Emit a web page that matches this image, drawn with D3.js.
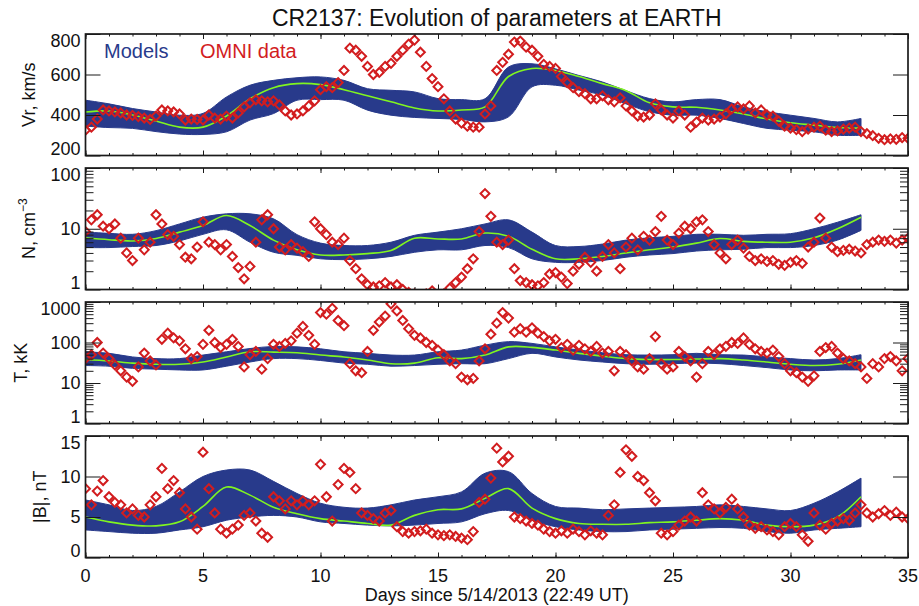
<!DOCTYPE html>
<html>
<head>
<meta charset="utf-8">
<script src="https://cdn.jsdelivr.net/npm/d3@7"></script>
<style>
  body { margin: 0; background: #fff; }
  svg { display: block; font-family: "Liberation Sans", Arial, Helvetica, sans-serif; }
</style>
</head>
<body>
<svg id="chart" width="919" height="606"></svg>
<script>
// Model ensemble envelope + median, sampled once a day (days 0..33)
const modelDays = [0, 1, 2, 3, 4, 5, 6, 7, 8, 9, 10, 11, 12, 13, 14, 15, 16, 17, 18, 19, 20, 21, 22, 23, 24, 25, 26, 27, 28, 29, 30, 31, 32, 33];

const vrTop = [473, 455, 432, 415, 399, 408, 489, 547, 571, 584, 588, 571, 530, 522, 514, 481, 476, 480, 637, 653, 628, 595, 563, 520, 481, 465, 476, 476, 440, 416, 399, 383, 366, 383];
const vrBottom = [345, 338, 334, 318, 306, 304, 317, 375, 407, 473, 476, 473, 424, 399, 388, 383, 378, 366, 391, 539, 547, 523, 498, 455, 416, 399, 399, 383, 358, 334, 325, 317, 300, 300];
const vrMedian = [415, 420, 400, 370, 340, 340, 395, 480, 535, 555, 550, 525, 495, 465, 435, 420, 425, 440, 590, 630, 620, 590, 555, 520, 460, 440, 438, 425, 405, 380, 362, 350, 338, 335];

const nTop = [8.8, 8.4, 8.1, 9.3, 12, 15.5, 17.6, 17.6, 14.6, 8, 5.8, 5.3, 5.3, 6.0, 7.8, 8.8, 10, 12, 14, 8.8, 5.3, 5.1, 5.6, 6.5, 7.1, 7.5, 8.1, 8.1, 7.8, 8.1, 8.3, 10, 12.8, 17];
const nBottom = [4.9, 4.9, 5.1, 5.3, 6.3, 8.1, 9.6, 6.0, 4.1, 3.65, 3.2, 3.1, 3.2, 3.5, 4.1, 4.5, 4.5, 5.3, 4.9, 3.2, 2.8, 2.8, 3.0, 3.4, 3.7, 3.9, 4.3, 4.5, 4.6, 4.9, 4.9, 5.3, 6.5, 9.4];
const nMedian = [7.1, 6.6, 6.3, 6.9, 8.8, 11.3, 16.5, 11.3, 6.5, 4.5, 3.7, 3.7, 3.9, 4.4, 7.0, 6.8, 6.8, 8.5, 7.5, 4.6, 3.2, 3.2, 3.5, 4.0, 4.5, 5.0, 5.8, 6.9, 6.2, 6.0, 6.0, 7.1, 10, 15.5];

const tTop = [59, 54, 44, 40, 40, 49, 59, 71, 80, 78, 70, 59, 54, 49, 49, 59, 65, 86, 105, 95, 78, 65, 56, 50, 49, 50, 54, 50, 49, 44, 40, 37, 40, 50];
const tBottom = [27, 26, 23, 22, 21, 21, 26, 33, 40, 40, 36, 31, 29, 26, 27, 29, 30, 30, 40, 54, 44, 37, 33, 30, 29, 30, 31, 30, 27, 24, 21, 20, 21, 21];
const tMedian = [38, 35, 31, 29, 29, 33, 44, 59, 58, 56, 49, 44, 37, 30, 31, 42, 40, 49, 78, 76, 65, 54, 46, 40, 38, 38, 39, 40, 37, 33, 29, 27, 29, 37];

const bTop = [7.1, 6.5, 5.8, 6.3, 8.1, 10, 10.8, 10.8, 9.4, 7.9, 6.7, 6.2, 6.1, 6.5, 7.1, 7.5, 8.1, 10.4, 10.6, 7.9, 6.3, 6.1, 5.9, 6.0, 6.1, 6.2, 6.3, 6.5, 6.3, 6.0, 5.8, 6.7, 8.1, 9.8];
const bBottom = [3.4, 3.2, 3.0, 3.0, 3.4, 3.8, 4.6, 5.0, 5.2, 5.0, 4.4, 4.2, 4.0, 3.9, 4.0, 4.2, 4.4, 5.4, 5.8, 4.6, 3.8, 3.4, 3.2, 3.2, 3.4, 3.5, 3.6, 3.7, 3.6, 3.2, 3.0, 3.4, 3.6, 3.8];
const bMedian = [5.0, 4.4, 4.0, 3.9, 4.4, 6.3, 8.7, 7.7, 6.2, 5.4, 4.8, 4.5, 4.2, 4.0, 5.2, 5.9, 6.0, 7.3, 8.5, 6.1, 4.8, 4.2, 4.1, 4.1, 4.3, 4.4, 4.6, 4.8, 4.6, 4.0, 3.8, 4.0, 5.0, 7.5];

// OMNI observations, one value every 0.25 day from day 0 to day 35
const omniStep = 0.25;

const vrOmni = [
  325, 340, 380, 425, 420, 415, 410, 400, 398, 392, 385, 378, 395, 425, 420, 415, 405, 375, 380, 378,
  375, 400, 385, 380, 395, 385, 410, 440, 460, 475, 470, 465, 470, 450, 420, 400, 405, 420, 445, 470,
  525, 540, 535, 560, 620, 730, 720, 690, 640, 600, 610, 640, 655, 690, 720, 750, 770, 710, 640, 580,
  540, 480, 420, 380, 360, 345, 340, 340, 405, 445, 620, 660, 700, 760, 765, 735, 720, 690, 650, 640,
  630, 590, 560, 535, 515, 505, 480, 480, 495, 475, 465, 485, 445, 420, 395, 390, 400, 455, 425, 400,
  385, 420, 400, 340, 365, 385, 375, 380, 390, 405, 430, 440, 430, 445, 410, 425, 400, 395, 370, 345,
  335, 328, 318, 330, 340, 345, 325, 318, 322, 330, 335, 340, 318, 308, 298, 285, 278, 282, 280, 288,
  285
];
const nOmni = [
  9, 14, 17, 11, 10, 12, 7, 4, 3, 7, 4.5, 6, 17, 12, 8, 7.5, 5.5, 3.4, 3.2, 5,
  13, 6, 5.5, 4.5, 5.5, 3.5, 2.3, 1.5, 2.4, 6, 14, 17, 10, 5, 4.5, 5.5, 4.8, 4.2, 3.5, 13,
  10, 8, 6, 5.5, 7, 3, 2.2, 1.5, 1.2, 1.1, 1.15, 1.3, 1.1, 1.2, 1.0, 0.9, 0.85, 0.8, 0.85, 0.95,
  0.8, 0.85, 1.05, 1.3, 1.6, 2.2, 3.2, 9, 38, 16, 6, 5.5, 6.5, 2.2, 1.4, 1.3, 1.2, 1.15, 1.3, 1.8,
  1.9, 1.6, 1.25, 2.0, 2.6, 3.4, 2.8, 2.0, 3.5, 5.5, 4.0, 2.2, 5.0, 7.0, 4.5, 7.5, 6.5, 9.0, 16, 6.5,
  5.5, 8.5, 11, 10, 13, 14, 9, 5.5, 4.0, 3.2, 5.5, 6.5, 4.8, 3.5, 3.0, 3.2, 2.9, 3.0, 2.6, 2.5,
  2.8, 3.0, 2.7, 5.0, 6.0, 15, 7.0, 5.0, 4.2, 4.4, 4.6, 4.3, 4.0, 5.5, 6.0, 6.5, 6.2, 6.5, 5.8, 6.5,
  7.0
];
const tOmni = [
  40, 50, 100, 55, 40, 28, 20, 14, 11, 25, 55, 35, 28, 120, 170, 130, 110, 70, 40, 45,
  90, 200, 100, 75, 90, 120, 80, 25, 50, 60, 22, 40, 90, 80, 95, 110, 170, 250, 150, 90,
  550, 500, 700, 350, 260, 30, 20, 18, 60, 200, 320, 450, 900, 600, 350, 220, 150, 130, 100, 85,
  65, 50, 35, 30, 14, 12, 13, 35, 70, 160, 300, 550, 400, 180, 220, 180, 230, 170, 140, 110,
  120, 75, 90, 65, 85, 70, 60, 80, 55, 60, 20, 60, 50, 35, 25, 22, 40, 140, 30, 22,
  25, 60, 45, 35, 14, 30, 60, 50, 70, 80, 100, 95, 130, 90, 70, 60, 55, 65, 45, 30,
  20, 18, 14, 11, 15, 60, 75, 80, 55, 40, 35, 30, 25, 13, 30, 25, 40, 45, 35, 20,
  40
];
const bOmni = [
  8.5, 6.5, 8.2, 9.5, 7.5, 6.8, 6.5, 5.5, 6.0, 5.2, 5.0, 6.5, 7.5, 11.0, 8.5, 9.5, 8.0, 6.0, 5.0, 3.5,
  13.0, 8.5, 5.5, 3.5, 3.0, 3.5, 4.0, 5.2, 5.5, 4.5, 3.0, 2.5, 7.5, 7.0, 6.0, 7.0, 6.5, 7.0, 6.5, 7.0,
  11.5, 7.5, 4.5, 9.0, 11.0, 10.5, 8.5, 5.5, 5.2, 4.8, 4.5, 5.5, 5.8, 3.8, 3.2, 3.0, 3.2, 3.3, 3.5, 3.0,
  2.8, 2.7, 2.8, 2.6, 2.4, 2.2, 3.2, 6.8, 7.2, 9.8, 13.5, 11.8, 12.5, 5.0, 4.8, 4.5, 4.2, 4.0, 3.5, 3.2,
  3.0, 3.3, 3.0, 3.5, 3.2, 2.8, 3.3, 3.0, 2.8, 5.2, 6.5, 10.5, 13.3, 12.5, 10.0, 9.5, 8.0, 7.0, 3.0, 2.8,
  3.2, 4.0, 4.5, 5.0, 4.5, 8.0, 6.5, 6.0, 5.5, 6.2, 7.2, 6.0, 5.0, 4.0, 3.6, 3.8, 3.4, 3.2, 2.8, 3.8,
  4.2, 3.8, 2.8, 2.0, 5.5, 4.0, 3.5, 4.2, 4.5, 4.8, 4.6, 5.5, 6.5, 5.5, 5.0, 5.4, 5.8, 5.2, 5.6, 5.0,
  4.8
];

const xMajorTicks = [0, 5, 10, 15, 20, 25, 30, 35];
const titleText = 'CR2137: Evolution of parameters at EARTH';
const xTitleText = 'Days since 5/14/2013 (22:49 UT)';

// Panel setup (layout only; values come from the arrays above)
const panels = [
  { title: 'Vr, km/s', log: false, domain: [200, 800], ticks: [200, 400, 600, 800], top: vrTop, bottom: vrBottom, median: vrMedian, omni: vrOmni, titleX: 35 },
  { title: 'N, cm', sup: '\u22123', log: true, domain: [1, 100], ticks: [1, 10, 100], top: nTop, bottom: nBottom, median: nMedian, omni: nOmni, titleX: 35 },
  { title: 'T, kK', log: true, domain: [1, 1000], ticks: [1, 10, 100, 1000], top: tTop, bottom: tBottom, median: tMedian, omni: tOmni, titleX: 26.5 },
  { title: '|B|, nT', log: false, domain: [0, 15], ticks: [0, 5, 10, 15], top: bTop, bottom: bBottom, median: bMedian, omni: bOmni, titleX: 46 }
];

const colors = { model: '#283a8b', median: '#80f520', omni: '#d21d1f', frame: '#1a1a1a' };
const plotLeft = 85.5, plotRight = 908;
const panelTops = [34, 168, 302, 436];
const panelHeight = 121.5;

const svg = d3.select('#chart');
const x = d3.scaleLinear().domain([0, 35]).range([plotLeft, plotRight]);
const diamond = d3.symbol(d3.symbolSquare, 40)();

svg.append('text')
  .attr('x', (plotLeft + plotRight) / 2)
  .attr('y', 25.5)
  .attr('text-anchor', 'middle')
  .attr('font-size', 23)
  .attr('fill', '#111')
  .text(titleText);

panels.forEach((p, i) => {
  const y0 = panelTops[i];
  const y1 = y0 + panelHeight;
  const y = (p.log ? d3.scaleLog() : d3.scaleLinear()).domain(p.domain).range([y1, y0]);

  const clipId = `clip-${i}`;
  svg.append('clipPath').attr('id', clipId)
    .append('rect')
    .attr('x', plotLeft).attr('y', y0)
    .attr('width', plotRight - plotLeft).attr('height', panelHeight);

  const g = svg.append('g').attr('clip-path', `url(#${clipId})`);
  const idx = d3.range(modelDays.length);

  // ensemble envelope
  g.append('path')
    .datum(idx)
    .attr('fill', colors.model)
    .attr('stroke', colors.model)
    .attr('stroke-width', 1)
    .attr('d', d3.area()
      .x(j => x(modelDays[j]))
      .y0(j => y(p.bottom[j]))
      .y1(j => y(p.top[j]))
      .curve(d3.curveCatmullRom));

  // ensemble median
  g.append('path')
    .datum(idx)
    .attr('fill', 'none')
    .attr('stroke', colors.median)
    .attr('stroke-width', 1.6)
    .attr('d', d3.line()
      .x(j => x(modelDays[j]))
      .y(j => y(p.median[j]))
      .curve(d3.curveCatmullRom));

  // OMNI diamonds
  g.selectAll('path.omni')
    .data(p.omni)
    .join('path')
    .attr('class', 'omni')
    .attr('d', diamond)
    .attr('transform', (v, j) => `translate(${x(j * omniStep)},${y(v)}) rotate(45)`)
    .attr('fill', 'none')
    .attr('stroke', colors.omni)
    .attr('stroke-width', 2);

  // ticks, pointing inward on all four sides
  const tickStyle = sel => {
    sel.select('.domain').remove();
    sel.selectAll('line').attr('stroke', colors.frame).attr('stroke-width', 1);
    sel.selectAll('text').remove();
  };
  const xMinor = d3.range(0, 36);
  svg.append('g').attr('transform', `translate(0,${y1})`)
    .call(d3.axisBottom(x).tickValues(xMinor).tickSize(-2.5)).call(tickStyle);
  svg.append('g').attr('transform', `translate(0,${y1})`)
    .call(d3.axisBottom(x).tickValues(xMajorTicks).tickSize(-5)).call(tickStyle);
  svg.append('g').attr('transform', `translate(0,${y0})`)
    .call(d3.axisTop(x).tickValues(xMinor).tickSize(-2.5)).call(tickStyle);
  svg.append('g').attr('transform', `translate(0,${y0})`)
    .call(d3.axisTop(x).tickValues(xMajorTicks).tickSize(-5)).call(tickStyle);

  if (p.log) {
    const minor = y.ticks().filter(v => !p.ticks.includes(v));
    svg.append('g').attr('transform', `translate(${plotLeft},0)`)
      .call(d3.axisLeft(y).tickValues(minor).tickSize(-8)).call(tickStyle);
    svg.append('g').attr('transform', `translate(${plotRight},0)`)
      .call(d3.axisRight(y).tickValues(minor).tickSize(-8)).call(tickStyle);
  }
  svg.append('g').attr('transform', `translate(${plotLeft},0)`)
    .call(d3.axisLeft(y).tickValues(p.ticks).tickSize(-15)).call(tickStyle);
  svg.append('g').attr('transform', `translate(${plotRight},0)`)
    .call(d3.axisRight(y).tickValues(p.ticks).tickSize(-15)).call(tickStyle);

  // frame
  svg.append('rect')
    .attr('x', plotLeft).attr('y', y0)
    .attr('width', plotRight - plotLeft).attr('height', panelHeight)
    .attr('fill', 'none')
    .attr('stroke', colors.frame)
    .attr('stroke-width', 1.7);

  // y tick labels, kept inside the panel's height
  svg.append('g').selectAll('text')
    .data(p.ticks)
    .join('text')
    .attr('x', plotLeft - 5)
    .attr('y', v => Math.max(y0 + 6.5, Math.min(y1 - 6.5, y(v))))
    .attr('dy', '0.35em')
    .attr('text-anchor', 'end')
    .attr('font-size', 18)
    .attr('fill', '#111')
    .text(v => v);

  // y title
  const t = svg.append('text')
    .attr('transform', `translate(${p.titleX},${(y0 + y1) / 2}) rotate(-90)`)
    .attr('text-anchor', 'middle')
    .attr('font-size', 18)
    .attr('fill', '#111')
    .text(p.title);
  if (p.sup) {
    t.append('tspan').attr('font-size', 12).attr('dy', -8).text(p.sup);
  }

  if (i === panels.length - 1) {
    svg.append('g').selectAll('text')
      .data(xMajorTicks)
      .join('text')
      .attr('x', d => x(d))
      .attr('y', 581.5)
      .attr('text-anchor', 'middle')
      .attr('font-size', 18)
      .attr('fill', '#111')
      .text(d => d);

    svg.append('text')
      .attr('x', (plotLeft + plotRight) / 2)
      .attr('y', 601)
      .attr('text-anchor', 'middle')
      .attr('font-size', 18)
      .attr('fill', '#111')
      .text(xTitleText);
  }
});

// legend
svg.append('text')
  .attr('x', 104).attr('y', 58)
  .attr('font-size', 20)
  .attr('fill', colors.model)
  .text('Models');
svg.append('text')
  .attr('x', 200).attr('y', 58)
  .attr('font-size', 20)
  .attr('fill', colors.omni)
  .text('OMNI data');
</script>
</body>
</html>
